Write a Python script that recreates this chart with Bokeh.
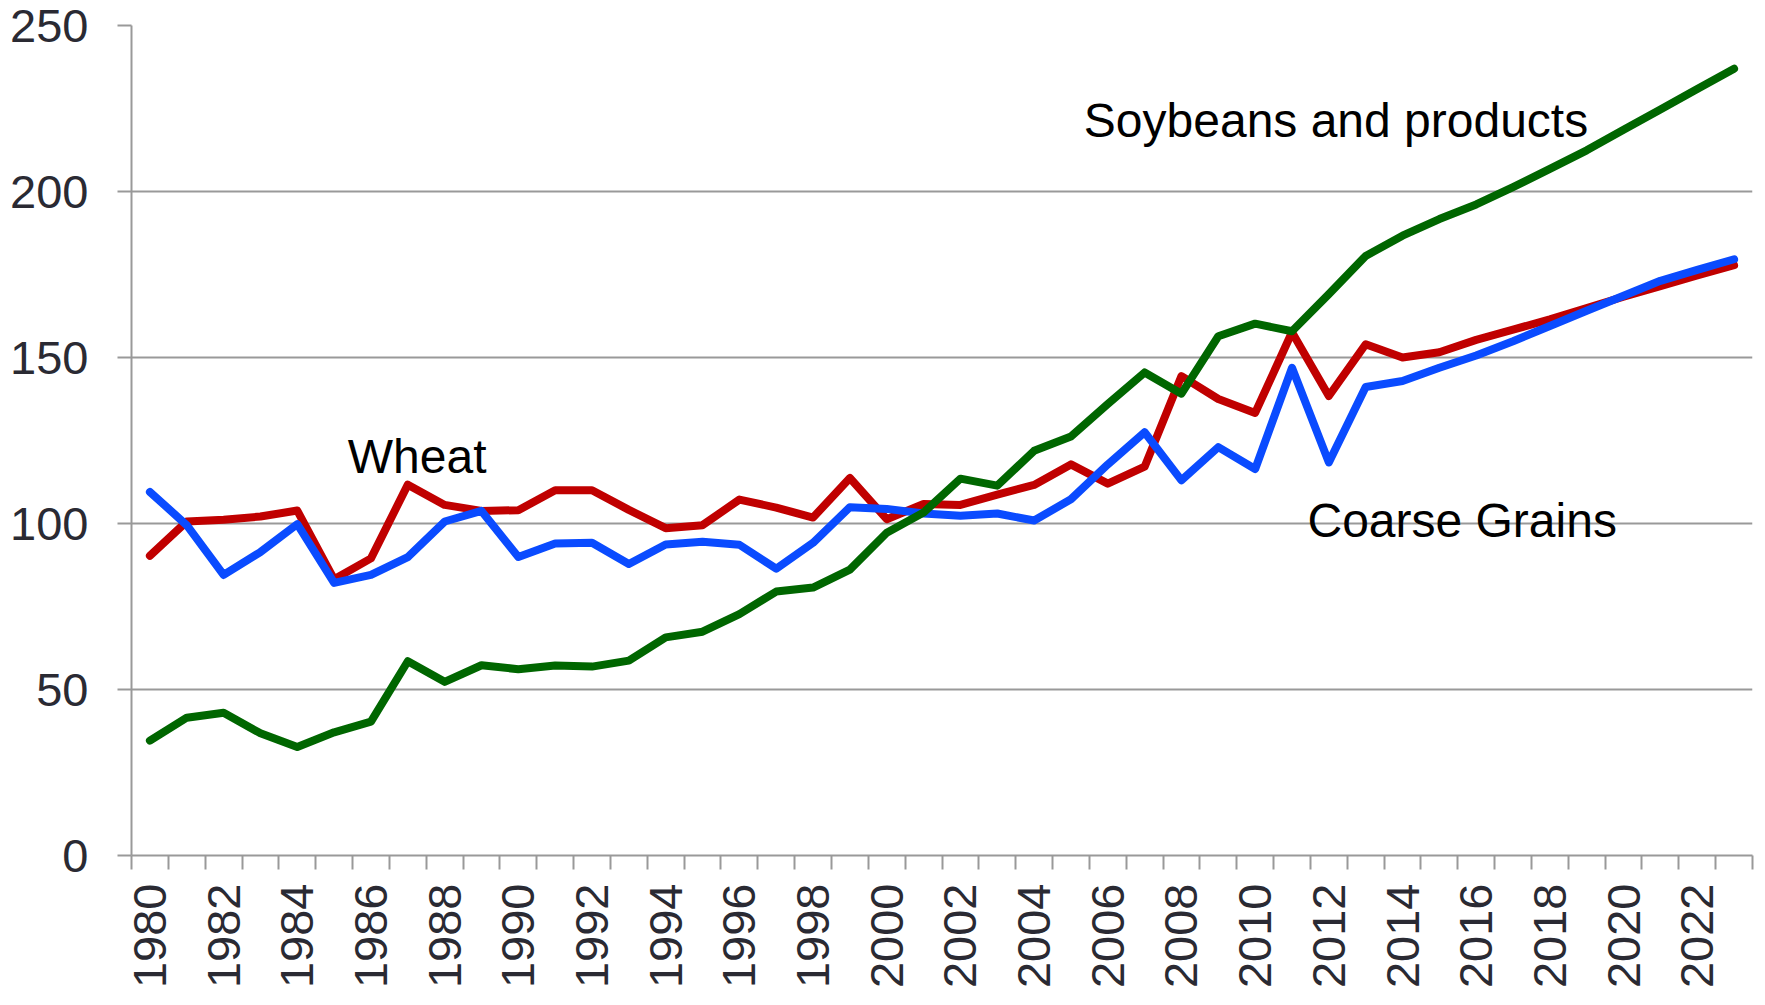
from math import pi
from bokeh.plotting import figure
from bokeh.models import FixedTicker, Range1d, CustomJSTickFormatter, Label
from bokeh.embed import file_html
from bokeh.resources import INLINE

years = list(range(1980, 2024))
wheat = [90.3, 100.6, 101.1, 102.1, 103.9, 83.2, 89.5, 111.7, 105.6, 103.8,
         104.0, 110.0, 110.0, 104.1, 98.6, 99.5, 107.2, 104.8, 101.8, 113.7,
         101.3, 105.9, 105.6, 108.7, 111.6, 117.8, 112.0, 117.1, 144.4, 137.5,
         133.3, 157.6, 138.4, 154.0, 150.0, 151.6, 155.3, 158.4, 161.5, 164.9,
         168.3, 171.5, 174.7, 177.8]
coarse = [109.5, 99.5, 84.5, 91.4, 99.8, 82.1, 84.5, 89.9, 100.6, 103.8,
          89.9, 94.0, 94.2, 87.8, 93.7, 94.5, 93.6, 86.4, 94.2, 104.9,
          104.4, 103.0, 102.3, 103.0, 100.9, 107.3, 117.8, 127.5, 113.0, 123.0,
          116.4, 146.9, 118.4, 141.1, 142.9, 146.9, 150.6, 154.9, 159.5, 164.1,
          168.6, 173.1, 176.4, 179.6]
soy = [34.6, 41.5, 43.0, 36.8, 32.7, 37.1, 40.3, 58.5, 52.3, 57.3,
       56.1, 57.2, 56.9, 58.7, 65.7, 67.4, 72.7, 79.5, 80.7, 86.1,
       97.2, 103.3, 113.5, 111.4, 121.9, 126.2, 136.0, 145.5, 139.1, 156.4,
       160.2, 157.9, 169.1, 180.6, 186.7, 191.7, 196.1, 201.3, 206.8, 212.4,
       218.6, 224.7, 230.9, 237.0]
y_ticks = [0, 50, 100, 150, 200, 250]
x_label_years = list(range(1980, 2024, 2))
labels = [("Wheat", 1985.37, 120.2), ("Soybeans and products", 2005.35, 221.4),
          ("Coarse Grains", 2011.42, 100.9)]

FONT = "Liberation Sans"
GRID = "#999999"
TXT = "#2a2a33"

p = figure(width=1757, height=1000, output_backend="svg", toolbar_location=None,
           x_range=Range1d(1979.5, 2023.5), y_range=Range1d(0, 250),
           min_border_left=131, min_border_right=5, min_border_top=25,
           min_border_bottom=145)
p.outline_line_color = None
p.background_fill_color = "white"

# grid
p.xgrid.grid_line_color = None
p.ygrid.grid_line_color = GRID
p.ygrid.grid_line_width = 2
p.ygrid.ticker = FixedTicker(ticks=y_ticks)

# y axis
p.yaxis.ticker = FixedTicker(ticks=y_ticks)
p.yaxis.axis_line_color = GRID
p.yaxis.axis_line_width = 2
p.yaxis.major_tick_line_color = GRID
p.yaxis.major_tick_line_width = 2
p.yaxis.major_tick_out = 14
p.yaxis.major_tick_in = 0
p.yaxis.minor_tick_line_color = None
p.yaxis.major_label_standoff = 29
p.yaxis.major_label_text_font = FONT
p.yaxis.major_label_text_font_size = "47px"
p.yaxis.major_label_text_color = TXT

# x axis
bounds = [y - 0.5 for y in years] + [years[-1] + 0.5]
p.xaxis.ticker = FixedTicker(ticks=x_label_years, minor_ticks=bounds)
p.xaxis.formatter = CustomJSTickFormatter(code="return String(Math.round(tick));")
p.xaxis.axis_line_color = GRID
p.xaxis.axis_line_width = 2
p.xaxis.major_tick_line_color = None
p.xaxis.major_tick_out = 0
p.xaxis.major_tick_in = 0
p.xaxis.minor_tick_line_color = GRID
p.xaxis.minor_tick_line_width = 2
p.xaxis.minor_tick_out = 14
p.xaxis.minor_tick_in = 0
p.xaxis.major_label_orientation = pi / 2
p.xaxis.major_label_standoff = 14
p.xaxis.major_label_text_font = FONT
p.xaxis.major_label_text_font_size = "47px"
p.xaxis.major_label_text_color = TXT

# lines
for ys, col in [(wheat, "#C00000"), (coarse, "#0A4BFF"), (soy, "#006600")]:
    p.line(years, ys, line_color=col, line_width=8, line_join="round", line_cap="round")

for txt, x, y in labels:
    p.add_layout(Label(x=x, y=y, text=txt, text_font=FONT, text_font_size="48px",
                       text_color="black", text_baseline="alphabetic", text_align="left"))

open("out.html", "w").write(file_html(p, INLINE))
